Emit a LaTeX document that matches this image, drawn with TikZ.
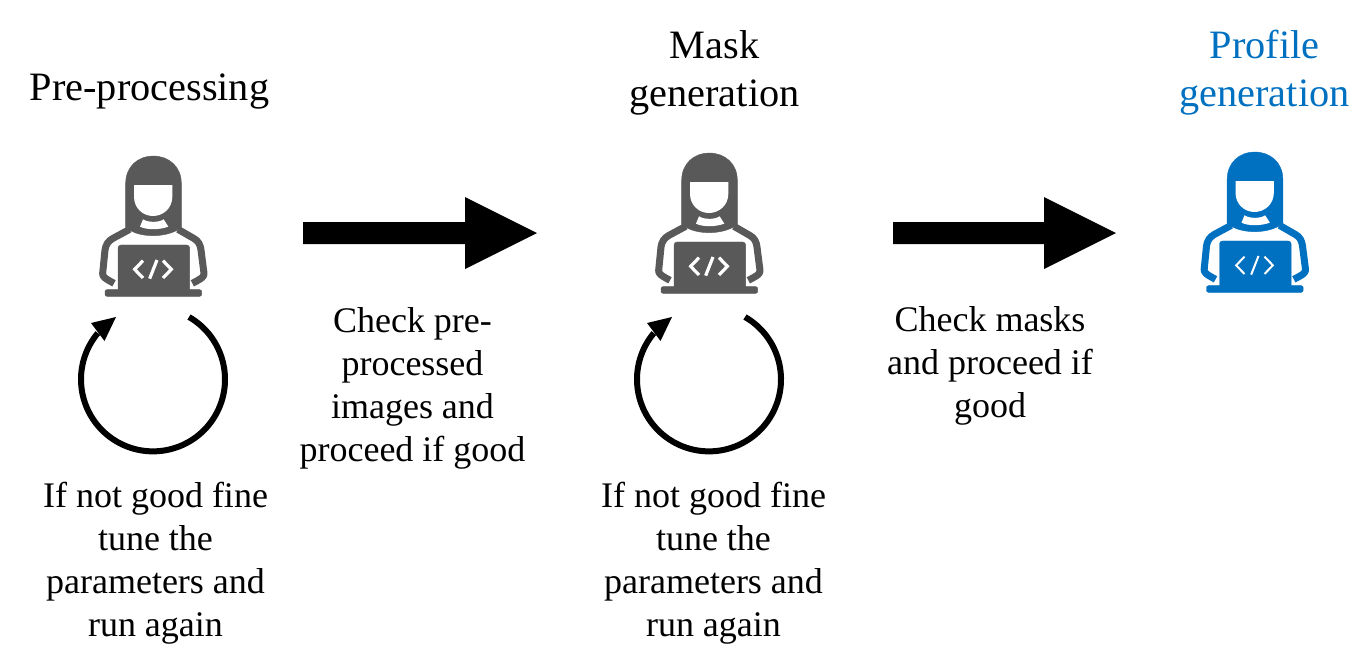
\documentclass[tikz,border=0pt]{standalone}
\usepackage{fontspec}
\setmainfont{Liberation Serif}
\definecolor{icongray}{HTML}{595959}
\definecolor{iconblue}{HTML}{0070C0}
\tikzset{
  title/.style={inner sep=0pt,align=center,font=\fontsize{40.3}{48}\selectfont},
  body/.style={inner sep=0pt,align=center,font=\fontsize{36}{43}\selectfont},
  block/.style={fill=black,draw=none},
  loop/.style={line width=6pt,black},
  coder/.pic={
    \begin{scope}[x=0.3333pt,y=-0.3333pt,shift={(-220,-48)}]
      \fill[pic actions] (138,262) -- (138,130) .. controls (138,80) and (175,48) .. (220,48)
        .. controls (268,48) and (305,80) .. (305,130) -- (305,262)
        -- (290,272) .. controls (250,292) and (190,292) .. (152,272) -- cycle;
      \fill[white] (163,135) -- (278,135) -- (278,170) .. controls (278,205) and (250,228) .. (220,228)
        .. controls (190,228) and (163,205) .. (163,170) -- cycle;
      \fill[white] (190,238) .. controls (205,248) and (238,248) .. (252,238) -- (266,260)
        .. controls (240,270) and (200,270) .. (181,260) -- cycle;
      \draw[pic actions,line width=7pt,line join=round,fill=none] (150,268) -- (100,295)
        .. controls (85,303) and (78,315) .. (76,330) -- (69,400) .. controls (68,410) and (75,415) .. (103,430);
      \draw[pic actions,line width=7pt,line join=round,fill=none] (295,268) -- (342,295)
        .. controls (357,303) and (362,315) .. (364,330) -- (373,400) .. controls (374,410) and (367,415) .. (338,430);
      \fill[pic actions,rounded corners=3pt] (115,460) -- (115,315) -- (330,315) -- (330,460) -- cycle;
      \fill[pic actions,rounded corners=2pt] (76,449) -- (366,449) -- (366,469) -- (76,469) -- cycle;
      \draw[white,line width=\codew,line cap=butt,fill=none] (190,362) -- (165,388) -- (190,414);
      \draw[white,line width=\codew,fill=none] (232,360) -- (210,416);
      \draw[white,line width=\codew,fill=none] (250,362) -- (275,388) -- (250,414);
    \end{scope}
  }
}
\newcommand{\codew}{3.2pt}
\begin{document}
\begin{tikzpicture}[x=1pt,y=-1pt]
\useasboundingbox (0,0) rectangle (1369,657);
% titles
\node[title] (t1) at (149.5,91.5) {Pre-processing};
\node[title] (t2) at (714.5,73) {Mask\\generation};
\node[title,text=iconblue] (t3) at (1264.5,73) {Profile\\generation};
% icons
\pic[fill=icongray,draw=icongray] (i1) at (153,156) {coder};
\pic[fill=icongray,draw=icongray] (i2) at (709,153) {coder};
\begin{scope}[shift={(1254.5,152)},scale=1.04]
\renewcommand{\codew}{2pt}
\pic[fill=iconblue,draw=iconblue] (i3) at (0,0) {coder};
\end{scope}
% block arrows
\fill[block] (303,222) -- (465,222) -- (465,197) -- (537,233) -- (465,269) -- (465,244) -- (303,244) -- cycle;
\fill[block] (893,222) -- (1044,222) -- (1044,197) -- (1116,233) -- (1044,269) -- (1044,244) -- (893,244) -- cycle;
% loops
\coordinate (la) at (189,317);
\draw[loop] (la) arc[start angle=60,end angle=-220,radius=72pt] coordinate (lb);
\fill (116,317) -- (91,323) -- (104.5,341) -- cycle;
\coordinate (ma) at (745,317);
\draw[loop] (ma) arc[start angle=60,end angle=-220,radius=72pt] coordinate (mb);
\fill (672,317) -- (647,323) -- (660.5,341) -- cycle;
% body text
\node[body] (b1) at (412.5,388) {Check pre-\\processed\\images and\\proceed if good};
\node[body] (b2) at (990,366) {Check masks\\and proceed if\\good};
\node[body] (b3) at (155.5,563.5) {If not good fine\\tune the\\parameters and\\run again};
\node[body] (b4) at (713.5,563.5) {If not good fine\\tune the\\parameters and\\run again};
\end{tikzpicture}
\end{document}
